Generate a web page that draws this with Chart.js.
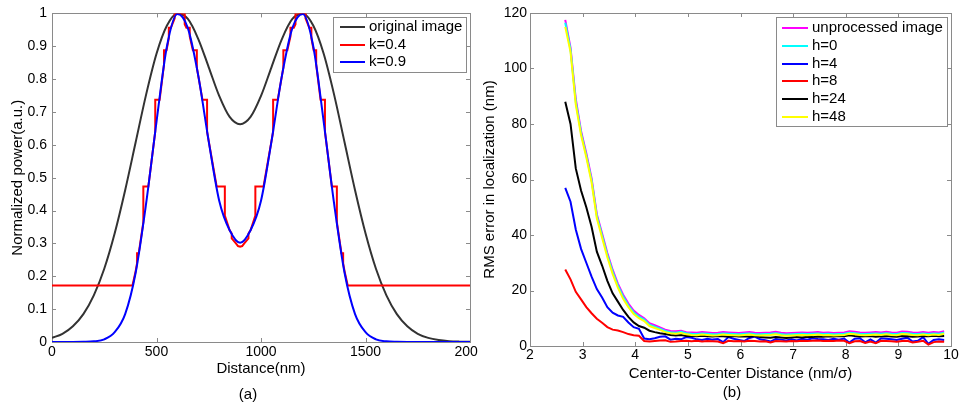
<!DOCTYPE html>
<html>
<head>
<meta charset="utf-8">
<script src="https://cdn.jsdelivr.net/npm/chart.js@4.4.1/dist/chart.umd.min.js"></script>
<style>
  body { margin: 0; background: #fff; width: 960px; height: 404px; overflow: hidden; position: relative; }
  #wrapA { position: absolute; left: 0; top: 0; width: 478px; height: 404px; overflow: hidden; }
  #chartB { position: absolute; left: 480px; top: 0; }
  .cap { position: absolute; width: 100px; text-align: center; font: 15px Arial, "Liberation Sans", sans-serif; line-height: 18px; color: #000; }
</style>
</head>
<body>
<div id="wrapA"><canvas id="chartA" width="490" height="404"></canvas></div>
<canvas id="chartB" width="480" height="404"></canvas>
<div class="cap" style="left:198px;top:385px">(a)</div>
<div class="cap" style="left:682px;top:383px">(b)</div>
<script>
// ---------- (a) normalized power profiles ----------
const distNm = [0, 50, 100, 150, 200, 250, 300, 350, 400, 450, 500, 550, 600, 650, 700, 750, 800, 850, 900, 950,
  1000, 1050, 1100, 1150, 1200, 1250, 1300, 1350, 1400, 1450, 1500, 1550, 1600, 1650, 1700, 1750, 1800, 1850, 1900, 1950, 2000];
const originalImage = [0.0125, 0.025, 0.048, 0.085, 0.142, 0.223, 0.331, 0.462, 0.607, 0.752, 0.877, 0.963, 0.999, 0.983, 0.922, 0.836, 0.749, 0.685, 0.663, 0.685,
  0.749, 0.836, 0.922, 0.983, 0.999, 0.963, 0.877, 0.752, 0.607, 0.462, 0.331, 0.223, 0.142, 0.085, 0.048, 0.025, 0.0125, 0.006, 0.0026, 0.0011, 0.0004];
const k09 = [0, 0, 0, 0.0005, 0.002, 0.008, 0.03, 0.085, 0.21, 0.42, 0.67, 0.90, 0.998, 0.955, 0.81, 0.61, 0.43, 0.34, 0.302, 0.34,
  0.43, 0.61, 0.81, 0.955, 0.998, 0.90, 0.67, 0.42, 0.21, 0.085, 0.03, 0.008, 0.002, 0.0005, 0, 0, 0, 0, 0, 0, 0];
// k=0.4 is a staircase, so it has its own x positions
const k04Dist = [0, 385, 400, 407, 407, 415, 437, 437, 461, 494, 494, 515, 536, 536, 548, 559, 559, 569, 587, 587,
  635, 635, 643, 659, 659, 674, 693, 693, 720, 742, 742, 788, 827, 827, 850, 860, 860, 880, 890, 900,
  910, 920, 940, 940, 950, 973, 973, 1012, 1058, 1058, 1080, 1107, 1107, 1126, 1141, 1141, 1157, 1165, 1165, 1213,
  1213, 1231, 1241, 1241, 1252, 1264, 1264, 1285, 1306, 1306, 1339, 1363, 1363, 1385, 1393, 1393, 1400, 1415, 2000];
const k04 = [0.172, 0.172, 0.215, 0.24, 0.27, 0.27, 0.365, 0.473, 0.473, 0.64, 0.737, 0.737, 0.845, 0.888, 0.888, 0.925, 0.956, 0.956, 0.985, 1.0,
  1.0, 0.967, 0.956, 0.956, 0.93, 0.888, 0.888, 0.835, 0.737, 0.737, 0.64, 0.473, 0.473, 0.385, 0.34, 0.33, 0.315, 0.30, 0.292, 0.29,
  0.292, 0.30, 0.315, 0.33, 0.34, 0.385, 0.473, 0.473, 0.64, 0.737, 0.737, 0.835, 0.888, 0.888, 0.93, 0.956, 0.956, 0.967, 1.0, 1.0,
  0.985, 0.956, 0.956, 0.925, 0.888, 0.888, 0.845, 0.737, 0.737, 0.64, 0.473, 0.473, 0.365, 0.27, 0.27, 0.24, 0.215, 0.172, 0.172];

// ---------- (b) RMS localization error ----------
const ccDist = [2.67, 2.77, 2.87, 2.97, 3.07, 3.17, 3.27, 3.37, 3.47, 3.57, 3.67, 3.77, 3.87, 3.97, 4.07, 4.17, 4.27, 4.37, 4.47, 4.57, 4.67, 4.77, 4.87, 4.97,
  5.07, 5.17, 5.27, 5.37, 5.47, 5.57, 5.67, 5.77, 5.87, 5.97,
  6.07, 6.17, 6.27, 6.37, 6.47, 6.57, 6.67, 6.77, 6.87, 6.97,
  7.07, 7.17, 7.27, 7.37, 7.47, 7.57, 7.67, 7.77, 7.87, 7.97,
  8.07, 8.17, 8.27, 8.37, 8.47, 8.57, 8.67, 8.77, 8.87, 8.97,
  9.07, 9.17, 9.27, 9.37, 9.47, 9.57, 9.67, 9.77, 9.87];
const unprocessed = [117.5, 107.5, 89, 77.5, 69.5, 60.5, 47.5, 40.5, 33.5, 27.5, 22.5, 18.5, 15.3, 12.8, 11.2, 10, 8.2, 7.5, 6.7, 5.9, 5.4, 5.3, 5.5, 5.0,
  4.9, 4.8, 5.0, 4.9, 4.7, 4.8, 5.0, 4.9, 4.8, 4.7,
  4.9, 5.0, 4.8, 4.7, 4.8, 4.9, 5.1, 4.8, 4.6, 4.7,
  4.8, 4.9, 4.8, 4.9, 5.0, 4.8, 4.9, 4.7, 4.8, 4.9,
  5.3, 5.1, 4.9, 4.8, 4.9, 5.0, 4.9, 5.1, 4.9, 4.8,
  5.2, 5.1, 4.9, 4.8, 5.0, 4.8, 5.0, 4.9, 5.3];
const h0 = [116.5, 106.8, 88, 76.8, 68.7, 59.8, 46.8, 39.8, 32.8, 26.8, 21.8, 17.8, 14.6, 12.1, 10.6, 9.5, 7.7, 7.0, 6.2, 5.4, 5.0, 4.8, 5.1, 4.6,
  4.4, 4.3, 4.5, 4.4, 4.2, 4.3, 4.5, 4.4, 4.3, 4.2,
  4.4, 4.5, 4.3, 4.2, 4.3, 4.4, 4.6, 4.3, 4.1, 4.2,
  4.3, 4.4, 4.3, 4.4, 4.5, 4.3, 4.4, 4.2, 4.3, 4.4,
  4.8, 4.6, 4.4, 4.3, 4.4, 4.5, 4.4, 4.6, 4.4, 4.3,
  4.7, 4.6, 4.4, 4.3, 4.5, 4.3, 4.5, 4.4, 4.8];
const h4 = [57, 52, 42, 35, 30, 25, 20.5, 17.5, 14, 12, 11, 10.5, 8.5, 6.8, 6.2, 2.7, 2.4, 2.8, 3.3, 3.5, 2.3, 2.6, 2.4, 3.2,
  3.0, 2.4, 2.2, 2.6, 2.3, 2.5, 1.4, 3.2, 2.6, 2.2,
  1.8, 2.9, 3.4, 2.4, 2.1, 1.6, 2.5, 2.3, 2.0, 2.4,
  2.0, 2.6, 2.3, 2.8, 2.5, 2.4, 2.2, 2.6, 2.3, 2.7,
  1.2, 2.6, 2.8, 1.3, 2.4, 1.2, 2.8, 2.6, 2.4, 2.2,
  2.6, 3.0, 1.6, 1.9, 3.2, 0.8, 2.2, 2.4, 2.2];
const h8 = [27.6, 24, 19.5, 16.8, 14, 11.8, 9.8, 8.4, 6.8, 5.9, 5.6, 5.0, 4.3, 3.9, 3.7, 1.8, 1.6, 1.8, 2.0, 2.1, 1.5, 1.6, 1.8, 1.9,
  1.7, 1.9, 1.6, 1.8, 1.7, 1.6, 1.0, 1.9, 1.7, 1.8,
  1.6, 1.9, 1.8, 1.6, 1.7, 1.3, 1.8, 1.7, 1.6, 1.8,
  1.7, 1.9, 1.8, 1.9, 2.0, 1.8, 1.9, 1.8, 2.0, 1.9,
  1.0, 1.7, 1.8, 1.1, 1.6, 1.0, 1.9, 1.8, 1.7, 1.5,
  1.8, 1.9, 1.3, 1.5, 1.9, 0.5, 1.4, 1.6, 1.5];
const h24 = [88, 80, 64, 56, 50, 43, 34, 29, 23.5, 19, 16, 13, 10.5, 8.5, 7.2, 6.6, 5.5, 5.0, 4.6, 4.3, 4.0, 3.8, 4.0, 3.6,
  3.6, 3.5, 3.7, 3.5, 3.4, 3.6, 3.5, 3.3, 3.6, 3.4,
  3.5, 3.3, 3.6, 3.2, 3.1, 3.0, 3.2, 3.1, 2.9, 3.1,
  3.2, 3.1, 3.3, 3.2, 3.4, 3.3, 3.5, 3.4, 3.6, 3.5,
  3.9, 3.6, 3.4, 3.5, 3.6, 3.3, 3.5, 3.6, 3.4, 3.3,
  3.6, 3.5, 3.3, 3.4, 3.6, 3.5, 3.7, 3.5, 3.6];
const h48 = [115, 106, 87, 76, 68, 59, 46, 39, 32, 26, 21, 17, 14, 11.5, 10, 9, 7.2, 6.5, 5.8, 5.0, 4.6, 4.4, 4.7, 4.2,
  4.0, 3.9, 4.1, 4.0, 3.8, 3.9, 4.1, 4.0, 3.9, 3.8,
  4.0, 4.1, 3.9, 3.8, 3.9, 4.0, 4.2, 3.9, 3.7, 3.8,
  3.9, 4.0, 3.9, 4.0, 4.1, 3.9, 4.0, 3.8, 3.9, 4.0,
  4.4, 4.2, 4.0, 3.9, 4.0, 4.1, 4.0, 4.2, 4.0, 3.9,
  4.3, 4.2, 4.0, 3.9, 4.1, 3.9, 4.1, 4.0, 4.4];

const FONT = 'Arial, "Liberation Sans", sans-serif';
const AXIS_COLOR = '#8a8a8a';
Chart.defaults.font.family = FONT;
Chart.defaults.color = '#000';

function pts(xs, ys) {
  return xs.map((x, i) => ({ x: x, y: ys[i] }));
}

// matlab-like box: frame + inward ticks on all four sides, and a boxed legend
const matlabBox = {
  id: 'matlabBox',
  beforeDatasetsDraw(chart) {
    const { ctx, chartArea: a, scales } = chart;
    ctx.save();
    ctx.strokeStyle = AXIS_COLOR;
    ctx.lineWidth = 1;
    ctx.strokeRect(Math.round(a.left) + 0.5, Math.round(a.top) + 0.5,
      Math.round(a.right) - Math.round(a.left), Math.round(a.bottom) - Math.round(a.top));
    ctx.beginPath();
    scales.x.ticks.forEach(t => {
      const px = Math.round(scales.x.getPixelForValue(t.value)) + 0.5;
      ctx.moveTo(px, a.bottom); ctx.lineTo(px, a.bottom - 4);
      ctx.moveTo(px, a.top); ctx.lineTo(px, a.top + 4);
    });
    scales.y.ticks.forEach(t => {
      const py = Math.round(scales.y.getPixelForValue(t.value)) + 0.5;
      ctx.moveTo(a.left, py); ctx.lineTo(a.left + 4, py);
      ctx.moveTo(a.right, py); ctx.lineTo(a.right - 4, py);
    });
    ctx.stroke();
    ctx.restore();
  },
  afterDatasetsDraw(chart, args, opts) {
    const lg = opts.legend;
    if (!lg) return;
    const ctx = chart.ctx;
    ctx.save();
    ctx.fillStyle = '#fff';
    ctx.fillRect(lg.x, lg.y, lg.w, lg.h);
    ctx.strokeStyle = AXIS_COLOR;
    ctx.lineWidth = 1;
    ctx.strokeRect(lg.x + 0.5, lg.y + 0.5, lg.w, lg.h);
    ctx.font = '15px ' + FONT;
    ctx.textBaseline = 'middle';
    chart.data.datasets.forEach((ds, i) => {
      const yy = Math.round(lg.y + lg.first + i * lg.row);
      ctx.strokeStyle = ds.borderColor;
      ctx.lineWidth = 2;
      ctx.beginPath();
      ctx.moveTo(lg.x + lg.s0, yy);
      ctx.lineTo(lg.x + lg.s1, yy);
      ctx.stroke();
      ctx.fillStyle = '#000';
      ctx.fillText(ds.label, lg.x + lg.tx, yy);
    });
    ctx.restore();
  }
};

function axisOpts(extra) {
  return Object.assign({
    type: 'linear',
    grid: { display: false, drawTicks: false },
    border: { display: false }
  }, extra);
}

// left: profiles
new Chart(document.getElementById('chartA'), {
  type: 'line',
  data: {
    datasets: [
      { label: 'original image', data: pts(distNm, originalImage), borderColor: '#333333', borderWidth: 2,
        cubicInterpolationMode: 'monotone', order: 2 },
      { label: 'k=0.4', data: pts(k04Dist, k04), borderColor: '#ff0000', borderWidth: 2, tension: 0, order: 1 },
      { label: 'k=0.9', data: pts(distNm, k09), borderColor: '#0000ff', borderWidth: 2,
        cubicInterpolationMode: 'monotone', order: 0 }
    ]
  },
  options: {
    responsive: false,
    animation: false,
    events: [],
    elements: { point: { radius: 0 } },
    layout: { padding: { left: 0, right: 20, top: 12, bottom: 0 } },
    plugins: {
      legend: { display: false },
      tooltip: { enabled: false },
      matlabBox: { legend: { x: 333, y: 17, w: 133, h: 55, first: 9.7, row: 17.8, s0: 7, s1: 32, tx: 36 } }
    },
    scales: {
      x: axisOpts({
        min: 0, max: 2000,
        afterFit: s => { s.height = 62; },
        ticks: { stepSize: 500, padding: 1.5, maxRotation: 0, font: { size: 14 }, callback: v => String(v) },
        title: { display: true, text: 'Distance(nm)', font: { size: 15 }, padding: { top: 0, bottom: 26 } }
      }),
      y: axisOpts({
        min: 0, max: 1,
        afterFit: s => { s.width = 52; },
        ticks: { stepSize: 0.1, padding: 5, font: { size: 14 }, callback: v => String(Math.round(v * 10) / 10) },
        title: { display: true, text: 'Normalized power(a.u.)', font: { size: 15 }, padding: { top: 8.5, bottom: 0 } }
      })
    }
  },
  plugins: [matlabBox]
});

// right: RMS error
const seriesB = [
  ['unprocessed image', unprocessed, '#ff00ff'],
  ['h=0', h0, '#00ffff'],
  ['h=4', h4, '#0000ff'],
  ['h=8', h8, '#ff0000'],
  ['h=24', h24, '#000000'],
  ['h=48', h48, '#ffff00']
];

new Chart(document.getElementById('chartB'), {
  type: 'line',
  data: {
    datasets: seriesB.map((s, i) => ({
      label: s[0], data: pts(ccDist, s[1]), borderColor: s[2], borderWidth: 2, tension: 0, order: -i
    }))
  },
  options: {
    responsive: false,
    animation: false,
    events: [],
    elements: { point: { radius: 0 } },
    layout: { padding: { left: 0, right: 9, top: 13, bottom: 0 } },
    plugins: {
      legend: { display: false },
      tooltip: { enabled: false },
      matlabBox: { legend: { x: 296, y: 17, w: 171, h: 109, first: 11.3, row: 17.7, s0: 6, s1: 32, tx: 36 } }
    },
    scales: {
      x: axisOpts({
        min: 2, max: 10,
        afterFit: s => { s.height = 58; },
        ticks: { stepSize: 1, padding: 0.5, maxRotation: 0, font: { size: 14 } },
        title: { display: true, text: 'Center-to-Center Distance (nm/\u03c3)', font: { size: 15 }, padding: { top: 0, bottom: 21.5 } }
      }),
      y: axisOpts({
        min: 0, max: 120,
        afterFit: s => { s.width = 50; },
        ticks: { stepSize: 20, padding: 3, font: { size: 14 } },
        title: { display: true, text: 'RMS error in localization (nm)', font: { size: 15 }, padding: { top: 1, bottom: 0 } }
      })
    }
  },
  plugins: [matlabBox]
});
</script>
</body>
</html>
